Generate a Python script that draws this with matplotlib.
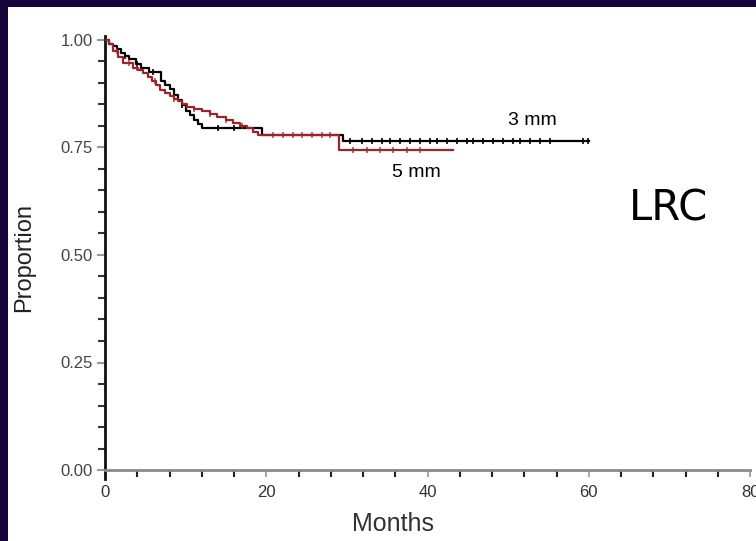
import matplotlib
matplotlib.use("Agg")
import matplotlib.pyplot as plt
import numpy as np
from matplotlib.patches import Rectangle
from matplotlib.ticker import MultipleLocator

plt.rcParams['font.family'] = ['Liberation Sans', 'DejaVu Sans']

# Curva 3 mm (Kaplan-Meier, escalones)
t_3mm = [0, 0.5, 1, 1.5, 2, 2.5, 3, 3.8, 4.5, 5.5, 7, 7.5, 8, 8.5, 9, 9.5, 10, 10.5, 11, 11.5,
         12, 19.5, 29.5, 60]
s_3mm = [1.0, 0.99, 0.985, 0.978, 0.97, 0.963, 0.955, 0.945, 0.935, 0.925, 0.905, 0.895, 0.885,
         0.872, 0.86, 0.848, 0.835, 0.825, 0.815, 0.805, 0.795, 0.78, 0.765, 0.765]
cens_3mm = [2.5, 4, 6, 9.5, 14, 16, 30.4, 31.9, 33.1, 34.4, 35.4, 36.6, 37.8, 39.1, 40.3, 41.2,
            42.4, 43.7, 44.9, 45.7, 46.9, 48.1, 49.4, 50.6, 51.5, 52.7, 53.9, 55.2, 59.3, 59.9]

# Curva 5 mm
t_5mm = [0, 0.5, 1, 1.6, 2.2, 3.5, 4.1, 4.7, 5.3, 5.8, 6.3, 6.8, 7.4, 8, 8.5, 9, 9.6, 10.2, 11,
         12, 13, 13.9, 15, 15.9, 16.8, 17.6, 18.3, 19, 29, 43.2]
s_5mm = [1.0, 0.99, 0.975, 0.96, 0.946, 0.935, 0.93, 0.923, 0.915, 0.905, 0.895, 0.884, 0.877,
         0.87, 0.863, 0.857, 0.85, 0.844, 0.84, 0.835, 0.828, 0.82, 0.813, 0.807, 0.80, 0.795,
         0.787, 0.779, 0.745, 0.745]
cens_5mm = [1.5, 3, 4, 6.2, 8.5, 11, 13, 15, 17, 20.8, 22.1, 23.3, 24.4, 25.7, 26.9, 27.9,
            30.8, 32.5, 34.1, 35.7, 37.5, 39.1]

x_ticks = [0, 20, 40, 60, 80]
y_ticks = [0.0, 0.25, 0.5, 0.75, 1.0]

c3 = 'black'
c5 = '#9a2428'


def km_value(t, s, x):
    i = np.searchsorted(t, x, side='right') - 1
    return np.array(s)[i]


fig = plt.figure(figsize=(7.56, 5.41), dpi=100)
fig.patch.set_facecolor('#16043a')
fig.add_artist(Rectangle((8 / 756, 0), 1, 1 - 7 / 541, transform=fig.transFigure,
                         facecolor='white', edgecolor='none', zorder=0))

bottom_px = 478.6
ax = fig.add_axes([105 / 756, (541 - bottom_px) / 541, 645 / 756, 438.6 / 541 + 0.01 * 430 / 541])
ax.set_facecolor('none')

ax.step(t_5mm, s_5mm, where='post', color=c5, lw=1.6, zorder=3)
ax.step(t_3mm, s_3mm, where='post', color=c3, lw=1.6, zorder=2)
ax.plot(cens_3mm, km_value(t_3mm, s_3mm, cens_3mm), '|', color=c3, ms=4, mew=1.2, zorder=2)
ax.plot(cens_5mm, km_value(t_5mm, s_5mm, cens_5mm), '|', color=c5, ms=4, mew=1.2, alpha=0.8, zorder=3)

ax.set_xlim(0, 80)
ax.set_ylim(-0.02, 1.01)
ax.spines['bottom'].set_position(('data', 0))
ax.spines['top'].set_visible(False)
ax.spines['right'].set_visible(False)
ax.spines['left'].set_linewidth(2)
ax.spines['left'].set_color('#111111')
ax.spines['bottom'].set_linewidth(2)
ax.spines['bottom'].set_color('#8a8a8a')

ax.set_xticks(x_ticks)
ax.set_yticks(y_ticks)
ax.set_yticklabels(['%.2f' % v for v in y_ticks])
ax.xaxis.set_minor_locator(MultipleLocator(4))
ax.yaxis.set_minor_locator(MultipleLocator(0.05))
ax.tick_params(axis='y', which='major', length=6, width=1.5, color='#999999', pad=3,
               labelsize=12, labelcolor='#444444')
ax.tick_params(axis='y', which='minor', length=5, width=1.5, color='#333333')
ax.tick_params(axis='x', which='major', length=5, width=1.5, color='#aaaaaa', pad=6,
               labelsize=12, labelcolor='#333333')
ax.tick_params(axis='x', which='minor', length=5, width=1.5, color='#222222')

ax.set_xlabel('Months', fontsize=18, color='#333333')
ax.xaxis.set_label_coords(0.447, -0.076)
ax.set_ylabel('Proportion', fontsize=17, color='#222222')
ax.yaxis.set_label_coords(-0.108, 0.5)

ax.text(53.0, 0.812, '3 mm', fontsize=14, ha='center', va='center')
ax.text(38.6, 0.693, '5 mm', fontsize=14, ha='center', va='center')
ax.text(69.9, 0.609, 'LRC', fontsize=30, ha='center', va='center', family='DejaVu Sans')

fig.savefig('out.png', dpi=100)
